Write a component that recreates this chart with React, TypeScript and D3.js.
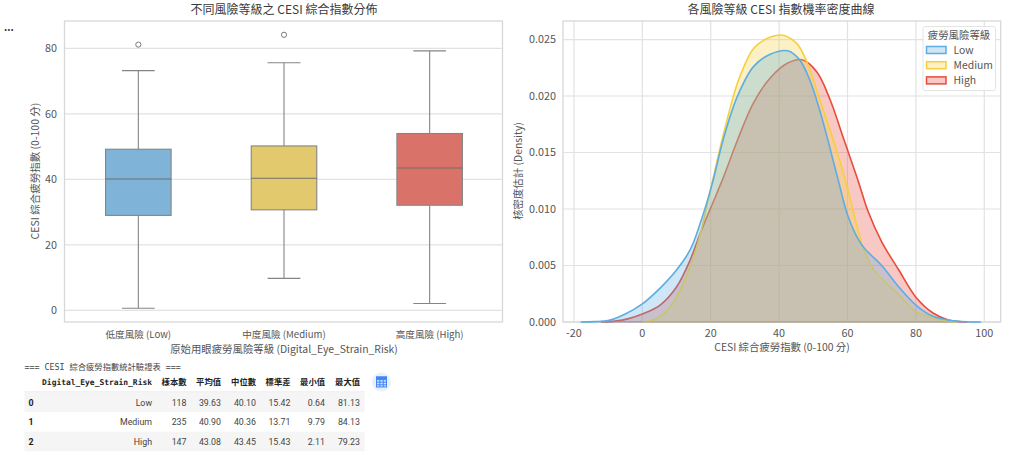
import React from "react";
import * as d3 from "d3";

const categories = ["低度風險 (Low)", "中度風險 (Medium)", "高度風險 (High)"];
const q1 = [29.0, 30.7, 32.1];
const medians = [40.1, 40.36, 43.45];
const q3 = [49.2, 50.2, 54.0];
const whiskerLow = [0.64, 9.79, 2.11];
const whiskerHigh = [73.2, 75.6, 79.23];
const fliers = [[81.13], [84.13], [] as number[]];
const boxColors = ["#7fb3d8", "#e2c96d", "#d9736a"];
const boxTicks = [0, 20, 40, 60, 80];

const riskNames = ["Low", "Medium", "High"];
const lineColors = ["#5dade2", "#f4d03f", "#e74c3c"];
const kdeLow: [number, number][] = [[-18,0],[-14,0.00003],[-10,0.00012],[-5,0.0007],[0,0.0016],[5.2,0.003],[10,0.0046],[14,0.0064],[17,0.0088],[20.4,0.0122],[23.7,0.0162],[27.7,0.0199],[32.5,0.0226],[37.4,0.0237],[42.5,0.024],[46,0.0232],[49,0.0214],[52,0.0186],[57,0.0129],[60,0.0095],[63,0.0074],[65,0.0065],[70,0.005],[75,0.0031],[80,0.0015],[85,0.0005],[90,0.00015],[95,0.00002],[99,0]];
const kdeMedium: [number, number][] = [[0,0],[2.5,0.0001],[5.2,0.0005],[7.5,0.0011],[10,0.0022],[14,0.0049],[16.7,0.0075],[20,0.0118],[24.2,0.0172],[28.6,0.0218],[33.5,0.0245],[40.5,0.0254],[45,0.0247],[48,0.0231],[52,0.0196],[57,0.015],[59.5,0.0124],[63.2,0.008],[65,0.0062],[67.5,0.0047],[71.5,0.0034],[75,0.0024],[80,0.0009],[85,0.0004],[89,0.00008],[92,0]];
const kdeHigh: [number, number][] = [[-12,0],[-8,0.00008],[-4,0.0003],[0,0.0007],[5.2,0.0015],[10,0.0031],[14,0.0055],[17,0.0079],[20,0.0101],[23.7,0.0128],[27.7,0.016],[32.5,0.0194],[37.4,0.0216],[42.4,0.0229],[46.8,0.0232],[51.1,0.0221],[55,0.0196],[59,0.0161],[63,0.0126],[66,0.0098],[70,0.0071],[75,0.0046],[80,0.0022],[85,0.0008],[89.5,0.00018],[95,0]];
const kdeSeries = [kdeLow, kdeMedium, kdeHigh];
const drawOrder = [2, 1, 0];
const kdeXTicks = [-20, 0, 20, 40, 60, 80, 100];
const kdeYTicks = [0, 0.005, 0.01, 0.015, 0.02, 0.025];

const tableHead = ["Digital_Eye_Strain_Risk", "樣本數", "平均值", "中位數", "標準差", "最小值", "最大值"];
const tableRows = [
  ["Low", "118", "39.63", "40.10", "15.42", "0.64", "81.13"],
  ["Medium", "235", "40.90", "40.36", "13.71", "9.79", "84.13"],
  ["High", "147", "43.08", "43.45", "15.43", "2.11", "79.23"],
];
const colRight = [152, 186.5, 221, 256, 290.5, 325, 360];

const FONT = "'Noto Sans CJK TC', 'Noto Sans', sans-serif";
const INK = "#555555";
const GRID = "#e2e2e2";
const SPINE = "#d8d8d8";

const L = { l: 64.5, r: 502.5, t: 21, b: 322 };
const R = { l: 563, r: 1000.7, t: 21, b: 322 };

export default function App() {
  const bx = d3.scaleBand<string>().domain(categories).range([L.l + 1, L.r]).paddingInner(0).paddingOuter(0);
  const by = d3.scaleLinear().domain([-3.54, 88.34]).range([L.b, L.t]);
  const boxW = bx.step() * 0.45;
  const capW = bx.step() * 0.225;

  const kx = d3.scaleLinear().domain([-23.2, 104.8]).range([R.l, R.r]);
  const ky = d3.scaleLinear().domain([0, 0.02664]).range([R.b, R.t]);
  const curve = d3.curveCatmullRom.alpha(0.5);
  const clampY = (v: number) => Math.min(ky(0), ky(v));
  const area = d3.area<[number, number]>().x(d => kx(d[0])).y0(ky(0)).y1(d => clampY(d[1])).curve(curve);
  const line = d3.line<[number, number]>().x(d => kx(d[0])).y(d => clampY(d[1])).curve(curve);

  return (
    <svg width={1024} height={455} style={{ position: "absolute", left: 0, top: 0, background: "#fff" }} fontFamily={FONT}>
      <text x={4} y={31} fontSize={10} fontWeight={700} fill="#333">...</text>

      {/* left chart */}
      <rect x={L.l} y={L.t} width={L.r - L.l} height={L.b - L.t} fill="#fff" />
      {boxTicks.map(t => (
        <g key={t}>
          <line x1={L.l} x2={L.r} y1={by(t)} y2={by(t)} stroke={GRID} strokeWidth={1.2} />
          <text x={57} y={by(t) + 3.8} fontSize={10.8} fill={INK} textAnchor="end">{t}</text>
        </g>
      ))}
      <rect x={L.l} y={L.t} width={L.r - L.l} height={L.b - L.t} fill="none" stroke={SPINE} strokeWidth={1.3} />
      {categories.map((c, i) => {
        const cx = (bx(c) as number) + bx.step() / 2;
        return (
          <g key={c}>
            <line x1={cx} x2={cx} y1={by(q3[i])} y2={by(whiskerHigh[i])} stroke="#858585" strokeWidth={1.1} />
            <line x1={cx} x2={cx} y1={by(q1[i])} y2={by(whiskerLow[i])} stroke="#858585" strokeWidth={1.1} />
            <line x1={cx - capW / 2} x2={cx + capW / 2} y1={by(whiskerHigh[i])} y2={by(whiskerHigh[i])} stroke="#858585" strokeWidth={1.1} />
            <line x1={cx - capW / 2} x2={cx + capW / 2} y1={by(whiskerLow[i])} y2={by(whiskerLow[i])} stroke="#858585" strokeWidth={1.1} />
            <rect x={cx - boxW / 2} y={by(q3[i])} width={boxW} height={by(q1[i]) - by(q3[i])} fill={boxColors[i]} stroke="#858585" strokeWidth={1.1} />
            <line x1={cx - boxW / 2} x2={cx + boxW / 2} y1={by(medians[i])} y2={by(medians[i])} stroke="#6f6f6f" strokeWidth={1.1} />
            {fliers[i].map(v => (
              <circle key={v} cx={cx} cy={by(v)} r={2.6} fill="#fff" stroke="#7a7a7a" strokeWidth={1} />
            ))}
            <text x={cx} y={338} fontSize={9.6} fill={INK} textAnchor="middle">{c}</text>
          </g>
        );
      })}
      <text x={284} y={14} fontSize={12} fill="#3a3a3a" textAnchor="middle">不同風險等級之 CESI 綜合指數分佈</text>
      <text x={284} y={353} fontSize={10.4} fill={INK} textAnchor="middle">原始用眼疲勞風險等級 (Digital_Eye_Strain_Risk)</text>
      <text transform="translate(39,171) rotate(-90)" fontSize={10.5} fill={INK} textAnchor="middle">CESI 綜合疲勞指數 (0-100 分)</text>

      {/* right chart */}
      {kdeXTicks.map(t => (
        <g key={t}>
          <line x1={kx(t)} x2={kx(t)} y1={R.t} y2={R.b} stroke={GRID} strokeWidth={1.2} />
          <text x={kx(t)} y={337} fontSize={10.8} fill={INK} textAnchor="middle">{t}</text>
        </g>
      ))}
      {kdeYTicks.map(t => (
        <g key={t}>
          <line x1={R.l} x2={R.r} y1={ky(t)} y2={ky(t)} stroke={GRID} strokeWidth={1.2} />
          <text x={556} y={ky(t) + 3.8} fontSize={10.8} fill={INK} textAnchor="end">{t.toFixed(3)}</text>
        </g>
      ))}
      <rect x={R.l} y={R.t} width={R.r - R.l} height={R.b - R.t} fill="none" stroke={SPINE} strokeWidth={1.3} />
      {drawOrder.map(i => {
        const s = kdeSeries[i];
        return (
          <g key={i}>
            <path d={area(s) as string} fill={lineColors[i]} fillOpacity={0.3} />
            <path d={line(s) as string} fill="none" stroke={lineColors[i]} strokeWidth={1.6} />
            <line x1={kx(s[0][0])} x2={kx(s[s.length - 1][0])} y1={ky(0)} y2={ky(0)} stroke={lineColors[i]} strokeWidth={1} strokeOpacity={0.6} />
          </g>
        );
      })}
      <text x={781} y={14} fontSize={12} fill="#3a3a3a" textAnchor="middle">各風險等級 CESI 指數機率密度曲線</text>
      <text x={782} y={351} fontSize={10.4} fill={INK} textAnchor="middle">CESI 綜合疲勞指數 (0-100 分)</text>
      <text transform="translate(522,171) rotate(-90)" fontSize={10.4} fill={INK} textAnchor="middle">核密度估計 (Density)</text>

      {/* legend */}
      <rect x={923} y={26.5} width={72.5} height={64} rx={2} fill="#fff" fillOpacity={0.85} stroke="#e4e4e4" strokeWidth={1} />
      <text x={959} y={38.5} fontSize={10.4} fill={INK} textAnchor="middle">疲勞風險等級</text>
      {riskNames.map((n, i) => (
        <g key={n}>
          <rect x={926.5} y={46.5 + i * 15.2} width={19.5} height={7} fill={lineColors[i]} fillOpacity={0.3} stroke={lineColors[i]} strokeWidth={1.5} />
          <text x={953.5} y={53.8 + i * 15.2} fontSize={10.4} fill={INK}>{n}</text>
        </g>
      ))}

      {/* table */}
      <text x={24.5} y={370} fontSize={8.3} fontFamily="'DejaVu Sans Mono','Noto Sans CJK TC',monospace" fill="#444">=== CESI 綜合疲勞指數統計驗證表 ===</text>
      {tableHead.map((h, i) => (
        <text key={h} x={colRight[i]} y={385} fontSize={i === 0 ? 7.95 : 8.3} fontWeight={700} textAnchor="end" fill="#222"
          fontFamily={i === 0 ? "'DejaVu Sans Mono',monospace" : FONT}>{h}</text>
      ))}
      <line x1={24.5} x2={364.5} y1={392} y2={392} stroke="#e4e4e4" />
      {tableRows.map((r, ri) => (
        <g key={ri}>
          {ri % 2 === 0 && <rect x={24.5} y={392.5 + ri * 19.6} width={340} height={19.6} fill="#f5f5f5" />}
          <text x={28.5} y={405.5 + ri * 19.6} fontSize={8.8} fontWeight={700} fill="#222" fontFamily="Roboto, sans-serif">{ri}</text>
          {r.map((v, ci) => (
            <text key={ci} x={colRight[ci]} y={405.5 + ri * 19.6} fontSize={8.8} textAnchor="end" fill="#444" fontFamily="Roboto, sans-serif">{v}</text>
          ))}
        </g>
      ))}

      {/* table icon */}
      <circle cx={381.5} cy={382} r={9.5} fill="#e8f0fe" />
      <g stroke="#4285f4" fill="none" strokeWidth={1}>
        <rect x={376.5} y={377} width={10} height={10} fill="#d2e3fc" />
        <rect x={376.5} y={377} width={10} height={2.6} fill="#4285f4" />
        <line x1={379.8} x2={379.8} y1={379} y2={387} />
        <line x1={383.2} x2={383.2} y1={379} y2={387} />
        <line x1={376.5} x2={386.5} y1={382.2} y2={382.2} />
        <line x1={376.5} x2={386.5} y1={384.8} y2={384.8} />
      </g>
    </svg>
  );
}
